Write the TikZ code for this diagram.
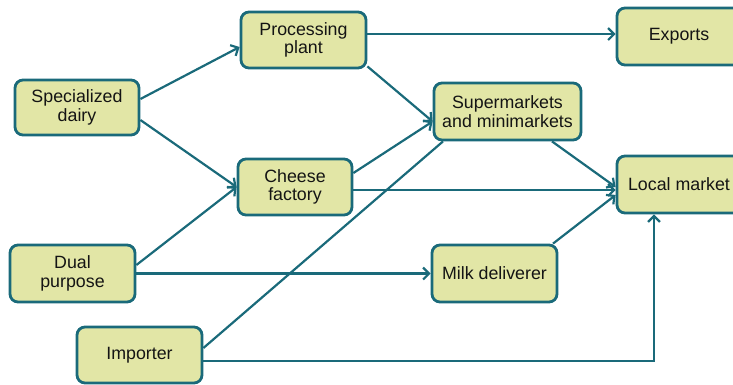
\documentclass[tikz,border=0pt]{standalone}
\usepackage{fontspec}
\setmainfont{Liberation Sans}
\usetikzlibrary{arrows.meta}
\definecolor{boxfill}{RGB}{226,230,166}
\definecolor{teal}{RGB}{26,106,122}
\definecolor{ink}{RGB}{20,20,20}
\tikzset{
  actor/.style={draw=teal, fill=boxfill, line width=2.8pt, rounded corners=8pt,
    inner sep=0pt, align=center, text=ink,
    font=\fontsize{17.8}{18.5}\selectfont},
  flow/.style={draw=teal, line width=2.2pt,
    -{Straight Barb[length=6pt,width=12pt,line width=2.2pt]}},
  plainflow/.style={draw=teal, line width=2.2pt}
}
\begin{document}
\begin{tikzpicture}[x=1pt,y=-1pt]
\useasboundingbox (0,0) rectangle (733,384);
\clip (0,0) rectangle (733,384);

% actors in the dairy chain
\node[actor, minimum width=124pt, minimum height=55pt] (sd) at (77,107.5) {Specialized\\dairy};
\node[actor, minimum width=125pt, minimum height=56pt] (pp) at (303.5,40) {Processing\\plant};
\node[actor, minimum width=114pt, minimum height=56pt] (cf) at (295,187) {Cheese\\factory};
\node[actor, minimum width=124pt, minimum height=57pt] (ex) at (679,36.5) {Exports};
\node[actor, minimum width=147pt, minimum height=57pt] (sm) at (507.5,111.5) {Supermarkets\\and minimarkets};
\node[actor, minimum width=124pt, minimum height=57pt] (lm) at (679,184.5) {Local market};
\node[actor, minimum width=125pt, minimum height=57pt] (dp) at (72.5,273.5) {Dual\\purpose};
\node[actor, minimum width=125pt, minimum height=56pt] (imp) at (139.5,355) {Importer};
\node[actor, minimum width=125pt, minimum height=57pt] (md) at (494.5,273.5) {Milk deliverer};

% product flows
\draw[flow] ([yshift=8.5pt]sd.east) -- ([yshift=-7pt]pp.west);
\draw[flow] ([yshift=-12.5pt]sd.east) -- (cf.west);
\draw[flow] ([yshift=8.5pt]dp.east) -- (cf.west);
\draw[flow] ([yshift=6pt]pp.east) -- ([yshift=6pt]pp.east -| ex.west);
\draw[flow] ([yshift=3pt]pp.south east) -- ([yshift=-10pt]sm.west);
\draw[flow] ([yshift=14pt]cf.east) -- ([yshift=-10pt]sm.west);
\draw[flow] ([yshift=-3pt]cf.east) -- ([yshift=-3pt]cf.east -| lm.west);
\draw[flow] ([xshift=44.5pt]sm.south) -- ([yshift=-2.5pt]lm.west);
\draw[flow] ([xshift=58.5pt]md.north) -- ([yshift=-10.5pt]lm.west);
\draw[flow] (dp.east) -- (md.west);
\draw[plainflow] ([yshift=7pt]imp.east) -- ([xshift=-64.5pt]sm.south);
\draw[flow] ([yshift=-6pt]imp.east) -| ([xshift=-25pt]lm.south);
\end{tikzpicture}
\end{document}
